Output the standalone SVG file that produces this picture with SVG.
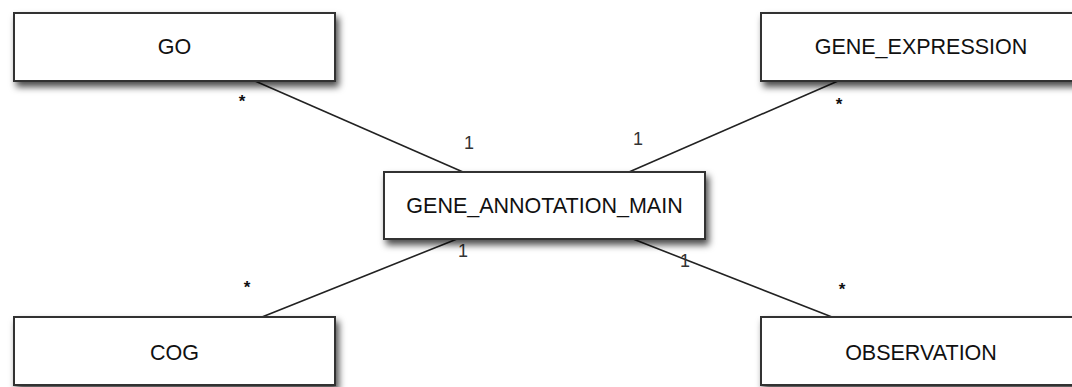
<svg xmlns="http://www.w3.org/2000/svg" width="1072" height="387" viewBox="0 0 1072 387">
  <defs>
    <filter id="shadow" x="-10%" y="-30%" width="130%" height="180%">
      <feDropShadow dx="3" dy="5" stdDeviation="3.5" flood-color="#000" flood-opacity="0.7"/>
    </filter>
    <style>
      .box { fill: #fff; stroke: #333; stroke-width: 2; filter: url(#shadow); }
      .name { font-family: "Liberation Sans", Arial, sans-serif; font-size: 21.5px; fill: #111; text-anchor: middle; }
      .link { stroke: #222; stroke-width: 1.6; fill: none; }
      .mult { font-family: "Liberation Sans", Arial, sans-serif; font-size: 18px; fill: #333; text-anchor: middle; }
      .star { font-family: "Liberation Sans", Arial, sans-serif; font-size: 17px; font-weight: bold; fill: #111; text-anchor: middle; }
    </style>
  </defs>
  <rect width="1072" height="387" fill="#fff"/>

  <!-- associations -->
  <g id="connectors">
    <line class="link" x1="255" y1="81" x2="463" y2="172"/>
    <line class="link" x1="838" y1="81" x2="629" y2="172"/>
    <line class="link" x1="457" y1="239" x2="262" y2="317"/>
    <line class="link" x1="633" y1="239" x2="832" y2="317"/>
    <text class="star" x="242" y="107">*</text>
    <text class="mult" x="469" y="149">1</text>
    <text class="mult" x="638" y="145">1</text>
    <text class="star" x="839" y="110">*</text>
    <text class="star" x="247" y="293">*</text>
    <text class="mult" x="463" y="257">1</text>
    <text class="mult" x="685" y="267">1</text>
    <text class="star" x="842" y="295">*</text>
  </g>

  <g id="go">
    <rect class="box" x="14" y="13" width="321" height="68"/>
    <text class="name" x="174.5" y="54">GO</text>
  </g>
  <g id="gene_expression">
    <rect class="box" x="761" y="13" width="321" height="68"/>
    <text class="name" x="921" y="54">GENE_EXPRESSION</text>
  </g>
  <g id="gene_annotation_main">
    <rect class="box" x="384" y="172" width="321" height="67"/>
    <text class="name" x="544.5" y="213">GENE_ANNOTATION_MAIN</text>
  </g>
  <g id="cog">
    <rect class="box" x="14" y="317" width="321" height="68"/>
    <text class="name" x="174.5" y="360">COG</text>
  </g>
  <g id="observation">
    <rect class="box" x="761" y="317" width="321" height="68"/>
    <text class="name" x="921" y="360">OBSERVATION</text>
  </g>
</svg>
